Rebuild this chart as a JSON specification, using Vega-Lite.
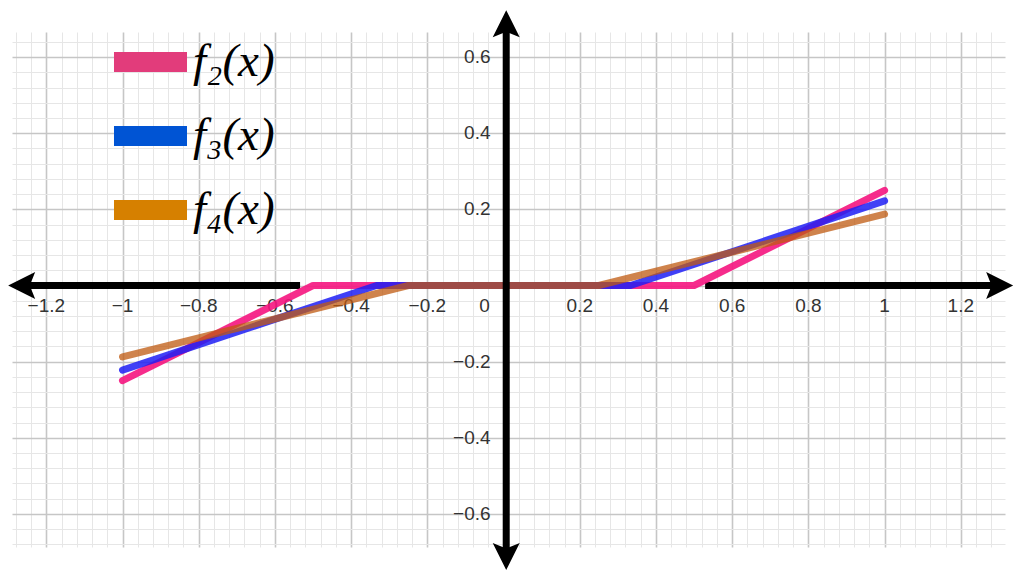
{
  "$schema": "https://vega.github.io/schema/vega-lite/v6.json",
  "width": 993,
  "height": 515,
  "autosize": {"type": "none"},
  "padding": {"left": 12, "top": 32, "right": 19, "bottom": 30},
  "background": "white",
  "config": {"view": {"stroke": null}},
  "datasets": {
    "curves": [
      {"fn": "f₂(x)", "x": -1, "y": -0.25},
      {"fn": "f₂(x)", "x": -0.5, "y": 0},
      {"fn": "f₂(x)", "x": 0.5, "y": 0},
      {"fn": "f₂(x)", "x": 1, "y": 0.25},
      {"fn": "f₃(x)", "x": -1, "y": -0.2222},
      {"fn": "f₃(x)", "x": -0.3333, "y": 0},
      {"fn": "f₃(x)", "x": 0.3333, "y": 0},
      {"fn": "f₃(x)", "x": 1, "y": 0.2222},
      {"fn": "f₄(x)", "x": -1, "y": -0.1875},
      {"fn": "f₄(x)", "x": -0.25, "y": 0},
      {"fn": "f₄(x)", "x": 0.25, "y": 0},
      {"fn": "f₄(x)", "x": 1, "y": 0.1875}
    ],
    "xticks": [
      {"v": -1.2, "label": "−1.2"},
      {"v": -1, "label": "−1"},
      {"v": -0.8, "label": "−0.8"},
      {"v": -0.6, "label": "−0.6"},
      {"v": -0.4, "label": "−0.4"},
      {"v": -0.2, "label": "−0.2"},
      {"v": 0.2, "label": "0.2"},
      {"v": 0.4, "label": "0.4"},
      {"v": 0.6, "label": "0.6"},
      {"v": 0.8, "label": "0.8"},
      {"v": 1, "label": "1"},
      {"v": 1.2, "label": "1.2"}
    ],
    "yticks": [
      {"v": 0.6, "label": "0.6"},
      {"v": 0.4, "label": "0.4"},
      {"v": 0.2, "label": "0.2"},
      {"v": -0.2, "label": "−0.2"},
      {"v": -0.4, "label": "−0.4"},
      {"v": -0.6, "label": "−0.6"}
    ],
    "one": [{}]
  },
  "layer": [
    {
      "data": {"name": "curves"},
      "transform": [{"filter": "datum.fn === 'f₂(x)'"}],
      "mark": {"type": "line", "strokeWidth": 7, "opacity": 0},
      "encoding": {
        "x": {
          "field": "x", "type": "quantitative",
          "scale": {"domain": [-1.29, 1.316], "nice": false, "zero": false},
          "axis": {
            "values": [-1.28, -1.24, -1.2, -1.16, -1.12, -1.08, -1.04, -1, -0.96, -0.92, -0.88, -0.84, -0.8, -0.76, -0.72, -0.68, -0.64, -0.6, -0.56, -0.52, -0.48, -0.44, -0.4, -0.36, -0.32, -0.28, -0.24, -0.2, -0.16, -0.12, -0.08, -0.04, 0, 0.04, 0.08, 0.12, 0.16, 0.2, 0.24, 0.28, 0.32, 0.36, 0.4, 0.44, 0.48, 0.52, 0.56, 0.6, 0.64, 0.68, 0.72, 0.76, 0.8, 0.84, 0.88, 0.92, 0.96, 1, 1.04, 1.08, 1.12, 1.16, 1.2, 1.24, 1.28],
            "tickCount": 500,
            "grid": true, "labels": false, "ticks": false, "domain": false, "title": null,
            "gridColor": {"condition": {"test": "abs(datum.value*5 - round(datum.value*5)) < 0.01", "value": "#c6c6c6"}, "value": "#e6e6e6"},
            "gridWidth": {"condition": {"test": "abs(datum.value*5 - round(datum.value*5)) < 0.01", "value": 1.6}, "value": 1}
          }
        },
        "y": {
          "field": "y", "type": "quantitative",
          "scale": {"domain": [-0.687, 0.666], "nice": false, "zero": false},
          "axis": {
            "values": [-0.68, -0.64, -0.6, -0.56, -0.52, -0.48, -0.44, -0.4, -0.36, -0.32, -0.28, -0.24, -0.2, -0.16, -0.12, -0.08, -0.04, 0, 0.04, 0.08, 0.12, 0.16, 0.2, 0.24, 0.28, 0.32, 0.36, 0.4, 0.44, 0.48, 0.52, 0.56, 0.6, 0.64],
            "tickCount": 500,
            "grid": true, "labels": false, "ticks": false, "domain": false, "title": null,
            "gridColor": {"condition": {"test": "abs(datum.value*5 - round(datum.value*5)) < 0.01", "value": "#c6c6c6"}, "value": "#e6e6e6"},
            "gridWidth": {"condition": {"test": "abs(datum.value*5 - round(datum.value*5)) < 0.01", "value": 1.6}, "value": 1}
          }
        }
      }
    },
    {
      "data": {"name": "xticks"},
      "mark": {"type": "text", "font": "Liberation Sans", "fontSize": 19, "color": "#333333", "dy": 20, "baseline": "middle", "align": "center"},
      "encoding": {
        "x": {"field": "v", "type": "quantitative"},
        "y": {"datum": 0, "type": "quantitative"},
        "text": {"field": "label"}
      }
    },
    {
      "data": {"name": "yticks"},
      "mark": {"type": "text", "font": "Liberation Sans", "fontSize": 19, "color": "#333333", "dx": -13, "baseline": "middle", "align": "right"},
      "encoding": {
        "x": {"datum": 0, "type": "quantitative"},
        "y": {"field": "v", "type": "quantitative"},
        "text": {"field": "label"}
      }
    },
    {
      "data": {"values": [{"label": "0"}]},
      "mark": {"type": "text", "font": "Liberation Sans", "fontSize": 19, "color": "#333333", "dx": -19, "dy": 20, "baseline": "middle", "align": "center"},
      "encoding": {
        "x": {"datum": 0, "type": "quantitative"},
        "y": {"datum": 0, "type": "quantitative"},
        "text": {"field": "label"}
      }
    },
    {
      "data": {"name": "one"},
      "mark": {"type": "rule", "color": "black", "strokeWidth": 7},
      "encoding": {
        "x": {"datum": -1.2646, "type": "quantitative"},
        "x2": {"datum": -0.534},
        "y": {"datum": 0, "type": "quantitative"}
      }
    },
    {
      "data": {"name": "one"},
      "mark": {"type": "rule", "color": "black", "strokeWidth": 7},
      "encoding": {
        "x": {"datum": 0.529, "type": "quantitative"},
        "x2": {"datum": 1.302},
        "y": {"datum": 0, "type": "quantitative"}
      }
    },
    {
      "data": {"name": "one"},
      "mark": {"type": "point", "shape": "M 1 0 L -1 -1 L -0.6 0 L -1 1 Z", "filled": true, "color": "black", "opacity": 1, "size": 729, "angle": 180},
      "encoding": {
        "x": {"datum": -1.2646, "type": "quantitative"},
        "y": {"datum": 0, "type": "quantitative"}
      }
    },
    {
      "data": {"name": "one"},
      "mark": {"type": "point", "shape": "M 1 0 L -1 -1 L -0.6 0 L -1 1 Z", "filled": true, "color": "black", "opacity": 1, "size": 729, "angle": 0},
      "encoding": {
        "x": {"datum": 1.302, "type": "quantitative"},
        "y": {"datum": 0, "type": "quantitative"}
      }
    },
    {
      "data": {"name": "curves"},
      "transform": [{"filter": "datum.fn === 'f₂(x)'"}],
      "mark": {"type": "line", "strokeWidth": 7, "strokeCap": "round", "strokeJoin": "round", "opacity": 0.9},
      "encoding": {
        "x": {"field": "x", "type": "quantitative"},
        "y": {"field": "y", "type": "quantitative"},
        "color": {
          "field": "fn", "type": "nominal",
          "scale": {"domain": ["f₂(x)", "f₃(x)", "f₄(x)"], "range": ["#f5157f", "#1f1ff5", "#bf5a10"]},
          "legend": {
            "orient": "none", "legendX": 112.5, "legendY": 4, "title": null,
            "symbolType": "M -1.404 -0.385 L 1.404 -0.385 L 1.404 0.385 L -1.404 0.385 Z",
            "symbolSize": 2704, "symbolStrokeWidth": 0, "symbolOpacity": 1,
            "labelFont": "Liberation Serif", "labelFontStyle": "italic", "labelFontSize": 47, "labelColor": "black",
            "labelOffset": 16.5, "rowPadding": 25, "labelLimit": 0,
            "encode": {
              "symbols": {
                "update": {
                  "fill": {"signal": "datum.value === 'f₂(x)' ? '#e23c7b' : datum.value === 'f₃(x)' ? '#0054d4' : '#d68000'"},
                  "fillOpacity": {"value": 1},
                  "opacity": {"value": 1},
                  "strokeWidth": {"value": 0}
                }
              }
            }
          }
        }
      }
    },
    {
      "data": {"name": "curves"},
      "transform": [{"filter": "datum.fn === 'f₃(x)'"}],
      "mark": {"type": "line", "strokeWidth": 7, "strokeCap": "round", "strokeJoin": "round", "opacity": 0.85},
      "encoding": {
        "x": {"field": "x", "type": "quantitative"},
        "y": {"field": "y", "type": "quantitative"},
        "color": {"field": "fn", "type": "nominal"}
      }
    },
    {
      "data": {"name": "curves"},
      "transform": [{"filter": "datum.fn === 'f₄(x)'"}],
      "mark": {"type": "line", "strokeWidth": 7, "strokeCap": "round", "strokeJoin": "round", "opacity": 0.75},
      "encoding": {
        "x": {"field": "x", "type": "quantitative"},
        "y": {"field": "y", "type": "quantitative"},
        "color": {"field": "fn", "type": "nominal"}
      }
    },
    {
      "data": {"name": "one"},
      "mark": {"type": "rule", "color": "black", "strokeWidth": 7},
      "encoding": {
        "x": {"datum": 0.007, "type": "quantitative"},
        "y": {"datum": -0.712, "type": "quantitative"},
        "y2": {"datum": 0.688}
      }
    },
    {
      "data": {"name": "one"},
      "mark": {"type": "point", "shape": "M 1 0 L -1 -1 L -0.6 0 L -1 1 Z", "filled": true, "color": "black", "opacity": 1, "size": 729, "angle": 270},
      "encoding": {
        "x": {"datum": 0.007, "type": "quantitative"},
        "y": {"datum": 0.688, "type": "quantitative"}
      }
    },
    {
      "data": {"name": "one"},
      "mark": {"type": "point", "shape": "M 1 0 L -1 -1 L -0.6 0 L -1 1 Z", "filled": true, "color": "black", "opacity": 1, "size": 729, "angle": 90},
      "encoding": {
        "x": {"datum": 0.007, "type": "quantitative"},
        "y": {"datum": -0.712, "type": "quantitative"}
      }
    }
  ]
}
